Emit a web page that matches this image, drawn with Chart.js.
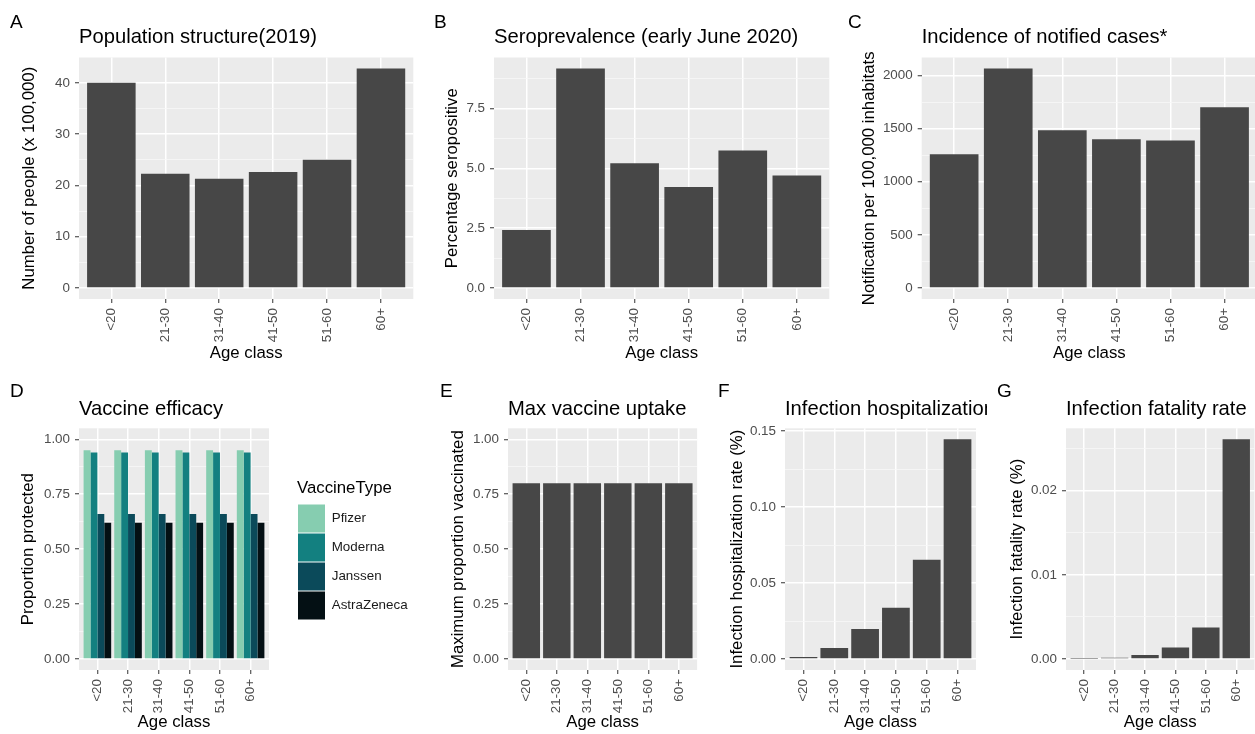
<!DOCTYPE html>
<html>
<head>
<meta charset="utf-8">
<script src="https://cdn.jsdelivr.net/npm/chart.js@4.4.0/dist/chart.umd.min.js"></script>
<style>
html, body { margin: 0; padding: 0; background: #ffffff; }
body { width: 1255px; height: 734px; overflow: hidden; position: relative; }
canvas { position: absolute; }
</style>
</head>
<body>
<canvas id="cA" width="420" height="370" style="left:0px;top:0px"></canvas>
<canvas id="cB" width="416" height="370" style="left:420px;top:0px"></canvas>
<canvas id="cC" width="426" height="370" style="left:836px;top:0px"></canvas>
<canvas id="cD" width="436" height="364" style="left:0px;top:370px"></canvas>
<canvas id="cE" width="264" height="364" style="left:436px;top:370px"></canvas>
<canvas id="cF" width="287" height="364" style="left:700px;top:370px"></canvas>
<canvas id="cG" width="273" height="364" style="left:987px;top:370px"></canvas>
<script>
// ---------------- data ----------------
const ageClasses = ['<20', '21-30', '31-40', '41-50', '51-60', '60+'];

const population = [40.0, 22.3, 21.3, 22.6, 25.0, 42.8];          // x 100,000
const seroprevalence = [2.43, 9.18, 5.22, 4.22, 5.75, 4.70];        // %
const incidence = [1260, 2066, 1485, 1400, 1388, 1700];             // per 100,000

const vaccineTypes = ['Pfizer', 'Moderna', 'Janssen', 'AstraZeneca'];
const efficacyPfizer = [0.95, 0.95, 0.95, 0.95, 0.95, 0.95];
const efficacyModerna = [0.94, 0.94, 0.94, 0.94, 0.94, 0.94];
const efficacyJanssen = [0.66, 0.66, 0.66, 0.66, 0.66, 0.66];
const efficacyAstraZeneca = [0.62, 0.62, 0.62, 0.62, 0.62, 0.62];

const maxUptake = [0.80, 0.80, 0.80, 0.80, 0.80, 0.80];
const hospitalizationRate = [0.0013, 0.0072, 0.0197, 0.0337, 0.0654, 0.1446];
const fatalityRate = [0.00002, 0.00015, 0.00047, 0.00138, 0.00375, 0.0261];

// tick values and labels
const popTicks = [0, 10, 20, 30, 40];
const popTickLabels = ['0', '10', '20', '30', '40'];
const seroTicks = [0, 2.5, 5, 7.5];
const seroTickLabels = ['0.0', '2.5', '5.0', '7.5'];
const incTicks = [0, 500, 1000, 1500, 2000];
const incTickLabels = ['0', '500', '1000', '1500', '2000'];
const propTicks = [0, 0.25, 0.5, 0.75, 1];
const propTickLabels = ['0.00', '0.25', '0.50', '0.75', '1.00'];
const hospTicks = [0, 0.05, 0.10, 0.15];
const hospTickLabels = ['0.00', '0.05', '0.10', '0.15'];
const fatTicks = [0, 0.01, 0.02];
const fatTickLabels = ['0.00', '0.01', '0.02'];

// ---------------- styling helpers ----------------
const FONT = "'Liberation Sans', Arial, Helvetica, sans-serif";
Chart.defaults.font.family = FONT;
const BAR_GREY = '#474747';
const vaccineColors = ['#86cdb0', '#138080', '#0b4a5a', '#041014'];

const ggPanel = {
  id: 'ggPanel',
  beforeDraw(chart) {
    const a = chart.chartArea, ctx = chart.ctx;
    ctx.save();
    ctx.fillStyle = '#ebebeb';
    ctx.fillRect(a.left, a.top, a.right - a.left, a.bottom - a.top);
    ctx.restore();
  },
  afterDraw(chart, args, opts) {
    const ctx = chart.ctx;
    ctx.save();
    ctx.fillStyle = '#000000';
    ctx.textAlign = 'left';
    ctx.textBaseline = 'alphabetic';
    ctx.font = '20.2px ' + FONT;
    ctx.fillText(opts.title, chart.chartArea.left, opts.titleY);
    ctx.font = '19px ' + FONT;
    ctx.fillText(opts.letter, opts.letterX, opts.letterY);
    ctx.restore();
  }
};

function minorTicks(majors, lo, hi) {
  const step = majors[1] - majors[0];
  const out = [];
  for (let v = majors[0] - step / 2; v <= hi + 1e-12; v += step) {
    if (v >= lo) out.push(v);
  }
  return out;
}

function ggBar(id, p) {
  const lo = -0.05 * p.yTop, hi = 1.05 * p.yTop;
  const minors = minorTicks(p.ticks, lo, hi);
  const all = p.ticks.concat(minors).sort((a, b) => a - b);
  const majorIndex = v => p.ticks.findIndex(m => Math.abs(m - v) < 1e-9);
  const isMajor = v => majorIndex(v) >= 0;

  const scales = {
    x: {
      type: 'linear',
      offset: false,
      min: -0.6,
      max: ageClasses.length - 1 + 0.6,
      afterBuildTicks: s => { s.ticks = ageClasses.map((c, i) => ({ value: i })); },
      afterFit: s => { s.height = p.xH; },
      ticks: {
        autoSkip: false, minRotation: 90, maxRotation: 90, padding: 5,
        color: '#4d4d4d', font: { family: FONT, size: 13.4 },
        callback: (v, i) => ageClasses[i]
      },
      grid: { offset: false, color: '#ffffff', lineWidth: 1.5, tickLength: 4, tickColor: '#333333', tickWidth: 1 },
      border: { display: false },
      title: {
        display: true, text: 'Age class', color: '#000000',
        font: { family: FONT, size: 16.8 }, padding: { top: 0, bottom: p.xTitlePad }
      }
    },
    y: {
      type: 'linear',
      position: 'left',
      min: lo, max: hi,
      afterBuildTicks: s => { s.ticks = all.map(v => ({ value: v })); },
      afterFit: s => { s.width = p.yW; },
      ticks: {
        autoSkip: false, padding: 5, color: '#4d4d4d', font: { family: FONT, size: 13.4 },
        callback: v => { const k = majorIndex(v); return k >= 0 ? p.tickLabels[k] : ''; }
      },
      grid: {
        color: c => isMajor(c.tick.value) ? '#ffffff' : '#f8f8f8',
        lineWidth: c => isMajor(c.tick.value) ? 1.5 : 0.8,
        tickColor: c => isMajor(c.tick.value) ? '#333333' : 'rgba(0,0,0,0)',
        tickLength: 4, tickWidth: 1
      },
      border: { display: false },
      title: {
        display: true, text: p.yTitle, color: '#000000',
        font: { family: FONT, size: 16.8 }, padding: { top: p.yTitlePad, bottom: 0 }
      }
    }
  };
  if (p.legend) {
    scales.yPad = {
      type: 'linear', position: 'right', display: true,
      grid: { display: false }, ticks: { display: false }, border: { display: false },
      afterFit: s => { s.width = p.legendGap; }
    };
  }

  return new Chart(document.getElementById(id), {
    type: 'bar',
    data: {
      datasets: p.series.map(s => ({
        label: s.label,
        data: ageClasses.map((c, i) => ({ x: i, y: s.values[i] })),
        backgroundColor: s.color,
        borderWidth: 0,
        categoryPercentage: 0.9,
        barPercentage: 1.0,
        yAxisID: 'y'
      }))
    },
    options: {
      responsive: false,
      animation: false,
      events: [],
      layout: { autoPadding: false, padding: { left: 0, top: p.padT, right: p.padR, bottom: 0 } },
      scales: scales,
      plugins: {
        tooltip: { enabled: false },
        title: { display: false },
        legend: p.legend ? {
          display: true, position: 'right', align: 'center', fullSize: false, maxWidth: p.legendW,
          labels: { boxWidth: 27, boxHeight: 28, padding: 1, color: '#1a1a1a', font: { family: FONT, size: 13.4 } },
          title: { display: true, position: 'start', text: 'VaccineType', color: '#000000', font: { family: FONT, size: 16.8 }, padding: { top: 1.7, bottom: 3.7 } }
        } : { display: false },
        ggPanel: { title: p.title, titleY: p.titleY, letter: p.letter, letterX: p.letterX, letterY: p.letterY }
      }
    },
    plugins: [ggPanel]
  });
}

const maxOf = arr => Math.max.apply(null, arr);

// ---------------- top row ----------------
ggBar('cA', {
  series: [{ label: 'Population', values: population, color: BAR_GREY }],
  yTop: maxOf(population), ticks: popTicks, tickLabels: popTickLabels,
  yTitle: 'Number of people (x 100,000)', title: 'Population structure(2019)',
  letter: 'A', letterX: 10, letterY: 28, titleY: 43,
  yW: 79, padR: 6.7, padT: 57.5, xH: 71, yTitlePad: 19.4, xTitlePad: 6.9
});
ggBar('cB', {
  series: [{ label: 'Seroprevalence', values: seroprevalence, color: BAR_GREY }],
  yTop: maxOf(seroprevalence), ticks: seroTicks, tickLabels: seroTickLabels,
  yTitle: 'Percentage seropositive', title: 'Seroprevalence (early June 2020)',
  letter: 'B', letterX: 14, letterY: 28, titleY: 43,
  yW: 74, padR: 6.7, padT: 57.5, xH: 71, yTitlePad: 22.6, xTitlePad: 6.9
});
ggBar('cC', {
  series: [{ label: 'Incidence', values: incidence, color: BAR_GREY }],
  yTop: maxOf(incidence), ticks: incTicks, tickLabels: incTickLabels,
  yTitle: 'Notification per 100,000 inhabitats', title: 'Incidence of notified cases*',
  letter: 'C', letterX: 12, letterY: 28, titleY: 43,
  yW: 85.7, padR: 5, padT: 57.5, xH: 71, yTitlePad: 23.2, xTitlePad: 6.9
});

// ---------------- bottom row ----------------
ggBar('cD', {
  series: [
    { label: vaccineTypes[0], values: efficacyPfizer, color: vaccineColors[0] },
    { label: vaccineTypes[1], values: efficacyModerna, color: vaccineColors[1] },
    { label: vaccineTypes[2], values: efficacyJanssen, color: vaccineColors[2] },
    { label: vaccineTypes[3], values: efficacyAstraZeneca, color: vaccineColors[3] }
  ],
  yTop: 1, ticks: propTicks, tickLabels: propTickLabels,
  yTitle: 'Proportion protected', title: 'Vaccine efficacy',
  letter: 'D', letterX: 10, letterY: 26.5, titleY: 44.5,
  yW: 79, padR: 24, padT: 58.3, xH: 64, yTitlePad: 18.6, xTitlePad: 1.4,
  legend: true, legendGap: 28, legendW: 115
});
ggBar('cE', {
  series: [{ label: 'Max uptake', values: maxUptake, color: BAR_GREY }],
  yTop: 1, ticks: propTicks, tickLabels: propTickLabels,
  yTitle: 'Maximum proportion vaccinated', title: 'Max vaccine uptake',
  letter: 'E', letterX: 4, letterY: 26.5, titleY: 44.5,
  yW: 72, padR: 1, padT: 58.3, xH: 64, yTitlePad: 12.2, xTitlePad: 1.4
});
ggBar('cF', {
  series: [{ label: 'IHR', values: hospitalizationRate, color: BAR_GREY }],
  yTop: maxOf(hospitalizationRate), ticks: hospTicks, tickLabels: hospTickLabels,
  yTitle: 'Infection hospitalization rate (%)', title: 'Infection hospitalization rate',
  letter: 'F', letterX: 18, letterY: 26.5, titleY: 44.5,
  yW: 85, padR: 11, padT: 58.3, xH: 64, yTitlePad: 27.6, xTitlePad: 1.4
});
ggBar('cG', {
  series: [{ label: 'IFR', values: fatalityRate, color: BAR_GREY }],
  yTop: maxOf(fatalityRate), ticks: fatTicks, tickLabels: fatTickLabels,
  yTitle: 'Infection fatality rate (%)', title: 'Infection fatality rate',
  letter: 'G', letterX: 10, letterY: 26.5, titleY: 44.5,
  yW: 79, padR: 5.5, padT: 58.3, xH: 64, yTitlePad: 20.6, xTitlePad: 1.4
});
</script>
</body>
</html>
